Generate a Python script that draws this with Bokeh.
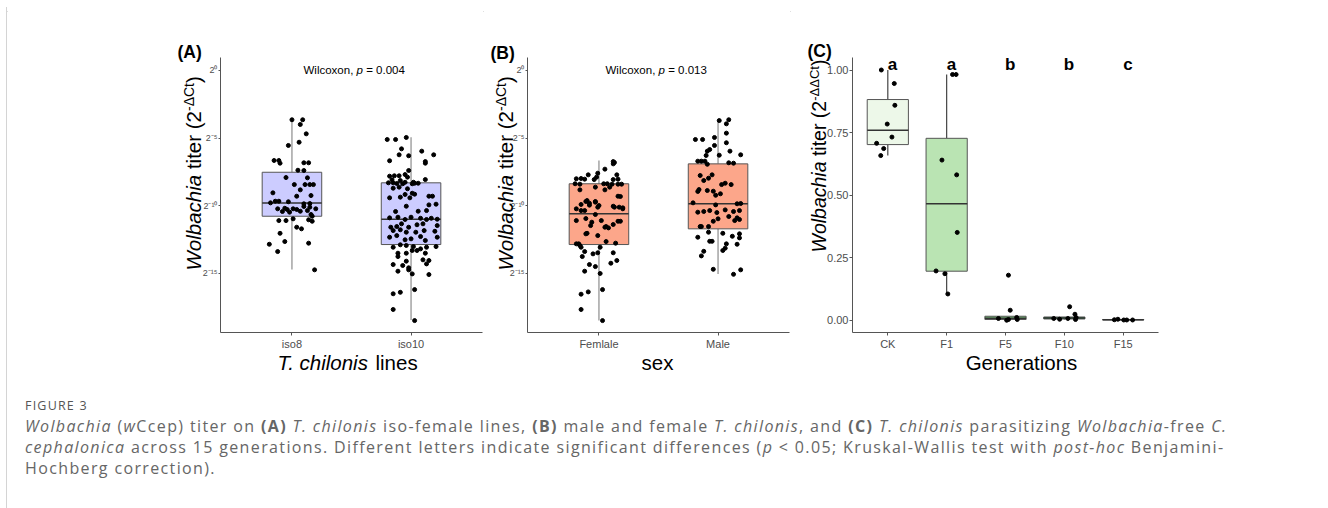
import math
from bokeh.plotting import figure
from bokeh.models import FixedTicker, PrintfTickFormatter, Div
from bokeh.core.properties import value
from bokeh.layouts import row, column
from bokeh.embed import file_html
from bokeh.resources import INLINE

# ---------------- data ----------------
lines_cats = ["iso8", "iso10"]
sex_cats = ["Femlale", "Male"]
gen_cats = ["CK", "F1", "F5", "F10", "F15"]
gen_letters = ["a", "a", "b", "b", "c"]

# log2 titer (exponent of 2^-dCt) and horizontal jitter (category units)
iso8_val = [-3.64,-3.64,-3.99,-4.68,-5.54,-5.30,-6.65,-6.65,-6.85,-6.82,-6.82,-7.37,-7.39,-7.91,-7.93,
            -8.43,-8.43,-8.43,-8.43,-8.82,-9.04,-9.29,-9.24,-9.78,-9.66,-9.66,-9.70,-9.85,-9.83,-10.22,
            -10.18,-10.27,-10.22,-10.27,-10.05,-10.10,-10.42,-10.47,-10.40,-10.35,-10.22,-10.64,-10.77,
            -11.09,-11.09,-10.96,-11.03,-11.14,-11.58,-11.70,-12.03,-12.64,-12.76,-12.84,-13.38,-14.73]
iso8_jit = [0.00,0.09,0.07,0.12,-0.03,0.06,-0.15,-0.11,-0.10,0.10,0.14,0.05,0.10,-0.05,0.13,0.02,0.11,
            0.15,0.18,0.07,-0.16,0.04,0.16,-0.18,-0.14,-0.11,-0.03,0.10,0.15,-0.12,-0.06,-0.04,0.01,0.04,
            0.10,0.15,-0.08,-0.02,0.07,0.13,0.20,0.16,0.17,-0.11,-0.05,0.01,0.14,0.17,0.04,0.08,-0.10,
            -0.06,0.14,-0.19,-0.12,0.19]
iso10_val = [-5.10,-5.10,-4.95,-5.79,-6.23,-6.30,-5.96,-6.23,-6.67,-6.73,-6.85,-7.39,-7.81,-7.78,-7.78,
             -7.69,-7.88,-8.08,-8.13,-8.26,-8.33,-8.06,-8.37,-8.30,-8.30,-8.35,-8.37,-8.26,-8.33,-8.70,
             -8.62,-8.74,-9.07,-9.14,-9.16,-9.41,-9.36,-9.41,-9.29,-9.29,-9.88,-9.93,
             -10.42,-10.03,-10.40,-10.35,-10.89,-10.84,-11.01,-10.84,-10.92,-11.01,-10.92,-10.99,-11.58,
             -11.53,-11.33,-11.58,-11.40,-11.33,-11.46,-11.83,-11.77,-11.95,-11.95,-11.83,-11.88,-12.32,
             -12.20,-12.51,-12.44,-12.27,-12.56,-12.32,-13.06,-12.88,-12.93,-13.01,-13.18,-13.06,-13.01,
             -13.50,-13.50,-13.30,-13.30,-13.50,-13.75,-14.09,-13.99,-14.04,-14.34,-14.41,-14.58,-14.83,
             -14.73,-14.29,-15.08,-15.03,-16.50,-16.39,-16.19,-17.66,-18.48]
iso10_jit = [-0.20,-0.13,-0.04,-0.08,-0.10,-0.02,0.09,0.19,-0.18,0.12,0.12,-0.02,-0.18,-0.14,-0.10,-0.05,
             -0.03,-0.16,-0.09,0.02,0.06,0.12,0.01,-0.19,-0.15,-0.12,-0.07,-0.05,0.03,-0.15,-0.10,-0.03,
             0.01,0.03,-0.05,-0.18,-0.09,-0.01,0.15,0.18,0.21,0.15,
             -0.13,-0.04,0.06,0.13,-0.18,-0.11,-0.05,0.00,0.08,0.13,0.17,0.22,-0.17,-0.12,-0.08,-0.02,
             0.05,0.10,0.22,-0.15,-0.09,-0.04,0.04,0.11,0.20,-0.18,-0.12,-0.05,0.00,0.08,0.12,0.22,-0.15,
             -0.09,-0.04,0.02,0.08,0.13,0.21,-0.11,-0.04,0.01,0.05,0.12,-0.11,-0.04,0.10,0.15,-0.15,-0.07,
             -0.02,-0.11,-0.02,0.13,0.15,0.01,-0.15,-0.09,0.03,-0.15,0.03]

female_val = [-6.73,-6.80,-6.90,-7.29,-7.71,-7.88,-8.00,-7.98,-8.03,-8.06,-7.59,-7.71,-8.06,-8.03,-8.37,
              -8.40,-8.37,-8.37,-8.40,-8.40,-8.40,-8.82,-8.62,-8.82,-8.62,-9.29,-9.31,-9.61,-9.81,-9.68,
              -9.90,-9.98,-10.03,-10.10,-10.15,-10.22,-10.35,-9.68,-9.73,-10.10,-10.10,-10.22,-10.35,-9.95,
              -10.64,-11.09,-11.21,-11.46,-11.09,-11.53,-11.38,-11.14,-11.14,-10.94,-12.07,-12.03,-12.20,
              -11.63,-11.58,-12.64,-12.76,-12.81,-12.81,-12.93,-13.06,-13.38,-13.55,-13.47,-13.06,-13.47,
              -13.75,-14.34,-14.49,-14.24,-14.04,-14.83,-15.00,-16.53,-16.36,-16.19,-17.66,-18.48]
female_jit = [0.12,0.13,0.12,0.05,-0.09,-0.02,-0.19,-0.15,-0.12,-0.04,-0.01,0.15,0.12,0.16,-0.20,-0.16,
              0.04,0.07,0.11,0.16,0.19,-0.16,-0.03,0.05,0.09,0.16,0.18,-0.10,-0.08,-0.03,-0.15,0.00,0.12,
              0.17,0.20,-0.19,-0.12,-0.11,-0.03,-0.01,0.13,0.20,-0.15,-0.08,-0.03,-0.19,-0.06,-0.07,0.02,
              0.06,0.12,0.16,0.18,-0.11,-0.11,-0.10,-0.01,0.08,0.05,0.06,0.14,-0.19,-0.17,-0.16,-0.15,
              -0.12,-0.05,-0.01,0.01,0.12,-0.14,-0.08,-0.03,0.10,0.15,-0.12,0.01,-0.15,-0.09,0.03,-0.15,0.03]
male_val = [-3.70,-3.64,-3.94,-5.10,-5.10,-4.95,-4.63,-5.34,-5.54,-5.84,-5.96,-5.96,-6.28,-6.26,-6.23,
            -6.70,-6.70,-6.70,-6.93,-6.82,-6.85,-7.76,-8.13,-7.96,-7.71,-8.94,-8.80,-8.87,-8.92,-9.22,
            -9.11,-8.33,-8.43,-8.43,-9.78,-9.93,-9.85,-9.83,-10.47,-10.42,-10.35,-10.50,-10.30,-10.42,
            -10.35,-10.96,-10.79,-10.89,-11.09,-11.01,-11.14,-11.53,-11.53,-11.53,-12.32,-11.95,-12.03,
            -12.25,-12.07,-12.37,-12.62,-12.62,-12.81,-13.13,-13.30,-12.84,-13.36,-13.70,-14.69,-15.06,-14.73]
male_jit = [0.01,0.09,0.07,-0.19,-0.13,-0.03,0.07,0.07,-0.03,-0.07,-0.09,0.10,-0.10,0.01,0.19,-0.17,
            -0.14,-0.11,-0.09,0.09,0.13,-0.15,-0.12,-0.08,-0.05,-0.17,-0.16,-0.09,-0.04,-0.02,0.02,0.06,
            0.11,0.03,-0.21,-0.02,0.16,0.19,-0.17,-0.12,-0.07,-0.01,0.06,0.13,0.18,0.00,0.09,0.16,0.14,
            0.18,-0.04,-0.15,-0.14,-0.08,-0.17,-0.08,0.04,0.12,0.18,0.18,-0.07,-0.05,0.07,0.06,0.04,0.16,
            -0.12,-0.14,-0.04,0.13,0.19]

# box statistics (log2 units): lower whisker, q1, median, q3, upper whisker
lines_lo = [-14.71, -18.43]
lines_q1 = [-10.77, -12.86]
lines_med = [-9.79, -10.99]
lines_q3 = [-7.52, -8.30]
lines_hi = [-3.55, -4.93]
sex_lo = [-18.48, -15.03]
sex_q1 = [-12.86, -11.70]
sex_med = [-10.59, -9.85]
sex_q3 = [-8.37, -6.90]
sex_hi = [-6.65, -3.65]

# panel C: relative titer 2^-ddCt
gen_val = [
    [1.000, 0.946, 0.859, 0.784, 0.732, 0.707, 0.686, 0.658],
    [0.982, 0.982, 0.640, 0.581, 0.351, 0.197, 0.186, 0.105],
    [0.180, 0.040, 0.007, 0.000, 0.003, 0.011, 0.003],
    [0.007, 0.004, 0.007, 0.054, 0.024, 0.003, 0.011],
    [0.002, 0.004, 0.001, 0.001, 0.001],
]
gen_jit = [
    [-0.11, 0.11, 0.12, -0.01, 0.07, -0.19, -0.07, -0.12],
    [0.10, 0.16, -0.08, 0.17, 0.18, -0.18, -0.03, 0.02],
    [0.05, 0.08, -0.12, 0.02, 0.05, 0.19, 0.20],
    [-0.18, -0.08, 0.06, 0.09, 0.18, 0.19, 0.20],
    [-0.15, -0.09, 0.01, 0.06, 0.16],
]
gen_lo = [0.658, 0.105, 0.000, 0.003, 0.001]
gen_q1 = [0.702, 0.196, 0.003, 0.005, 0.001]
gen_med = [0.759, 0.466, 0.008, 0.009, 0.002]
gen_q3 = [0.882, 0.727, 0.016, 0.013, 0.003]
gen_hi = [1.000, 0.982, 0.016, 0.013, 0.003]

y_exp_ticks = [0, -5, -10, -15]
y_exp_labels = ["2\u2070", "2\u207b\u2075", "2\u207b\u00b9\u2070", "2\u207b\u00b9\u2075"]
c_ticks = [0.0, 0.25, 0.5, 0.75, 1.0]

# ---------------- helpers ----------------
FONT = "Liberation Sans"
FT, FB = 57, 332  # page y of frame top / bottom (all panels)
BASE_K = 0.38     # offset between requested and rendered alphabetic baseline (in em)
ARIAL = {' ': 278, '(': 333, ')': 333, '-': 333, '.': 278, ',': 278, '=': 584, '\u0394': 668,
         'C': 722, 'T': 611, 'W': 944, 'G': 778, 'a': 556, 'b': 556, 'c': 500, 'e': 556, 'h': 556,
         'i': 222, 'l': 222, 'n': 556, 'o': 556, 'p': 556, 'r': 333, 's': 500, 't': 278, 'x': 500}


def tw(s, size):
    return sum(ARIAL.get(ch, 556) for ch in s) / 1000.0 * size


class Panel:
    def __init__(self, p, fl, fr, xr, yr):
        self.p, self.fl, self.fr, self.xr, self.yr = p, fl, fr, xr, yr

    def data(self, xp, yp):
        xd = self.xr[0] + (xp - self.fl) / (self.fr - self.fl) * (self.xr[1] - self.xr[0])
        yd = self.yr[0] + (FB - yp) / (FB - FT) * (self.yr[1] - self.yr[0])
        return xd, yd


def txt(P, xp, yp, text, size, style="normal", align="left", angle=0.0, color="#000000"):
    # (xp, yp) = page position of the alphabetic baseline start
    if angle:
        xp = xp - BASE_K * size
    else:
        yp = yp - BASE_K * size
    xd, yd = P.data(xp, yp)
    P.p.text(x=[xd], y=[yd], text=[text], text_font=value(FONT), text_font_size=value(f"{size}px"),
             text_font_style=style, text_align=align, text_baseline="alphabetic", angle=angle,
             text_color=color, level="overlay")


def pieces(P, x0, y0, parts, vertical=False):
    pos = 0.0
    for t, style, size, shift in parts:
        lead = tw(t[:len(t) - len(t.lstrip())], size)
        core = t.strip()
        if vertical:
            txt(P, x0 - shift, y0 - pos - lead, core, size, style, angle=math.pi / 2)
        else:
            txt(P, x0 + pos + lead, y0 - shift, core, size, style)
        pos += tw(t, size)


def make_fig(width, ml, mr, xr, yr):
    p = figure(width=width, height=378, x_range=xr, y_range=yr, min_border_left=ml,
               min_border_right=mr, min_border_top=FT - 7, min_border_bottom=53,
               output_backend="svg", toolbar_location=None, title=None)
    p.xgrid.visible = False
    p.ygrid.visible = False
    p.outline_line_color = None
    p.background_fill_color = "white"
    p.border_fill_color = "white"
    for ax in (p.xaxis, p.yaxis):
        ax.axis_line_color = "#555555"
        ax.axis_line_width = 1
        ax.major_tick_line_color = "#555555"
        ax.major_tick_in = 0
        ax.minor_tick_line_color = None
        ax.major_label_text_font = FONT
        ax.major_label_text_color = "#4d4d4d"
    p.xaxis.major_tick_out = 3
    p.xaxis.major_label_standoff = 2
    p.xaxis.major_label_text_font_size = "11px"
    return p


def box_panel(p, lo, q1, med, q3, hi, fill, wcol, hw, vals, jits):
    xs = [i + 1 for i in range(len(lo))]
    p.segment(x0=xs, y0=q3, x1=xs, y1=hi, line_color=wcol, line_width=1.2)
    p.segment(x0=xs, y0=lo, x1=xs, y1=q1, line_color=wcol, line_width=1.2)
    p.vbar(x=xs, width=2 * hw, bottom=q1, top=q3, fill_color=fill, line_color="#555555", line_width=1)
    p.segment(x0=[x - hw for x in xs], y0=med, x1=[x + hw for x in xs], y1=med,
              line_color="#333333", line_width=1.5)
    for i, (v, j) in enumerate(zip(vals, jits)):
        p.scatter(x=[i + 1 + o for o in j], y=v, size=4, color="black")


# ---------------- panels ----------------
YR_AB = (-19.36, 0.96)
pA = make_fig(476, 213, 1, (0.4, 2.6), YR_AB)
box_panel(pA, lines_lo, lines_q1, lines_med, lines_q3, lines_hi, "#ccccff", "#8c8c8c", 0.25,
          [iso8_val, iso10_val], [iso8_jit, iso10_jit])
pB = make_fig(307, 44, 1, (0.4, 2.6), YR_AB)
box_panel(pB, sex_lo, sex_q1, sex_med, sex_q3, sex_hi, "#fca68a", "#8c8c8c", 0.25,
          [female_val, male_val], [female_jit, male_jit])
for p, cats in ((pA, lines_cats), (pB, sex_cats)):
    p.xaxis.ticker = FixedTicker(ticks=[1, 2])
    p.xaxis.major_label_overrides = {i + 1: c for i, c in enumerate(cats)}
    p.yaxis.ticker = FixedTicker(ticks=y_exp_ticks)
    p.yaxis.major_label_overrides = dict(zip(y_exp_ticks, y_exp_labels))
    p.yaxis.major_tick_out = 2
    p.yaxis.major_label_standoff = 1
    p.yaxis.major_label_text_font_size = "9px"

pC = make_fig(538, 62, 170, (0.4, 5.6), (-0.049, 1.05))
box_panel(pC, gen_lo, gen_q1, gen_med, gen_q3, gen_hi,
          ["#edf8e9", "#bae4b3", "#74c476", "#31a354", "#006d2c"], "#444444", 0.35, gen_val, gen_jit)
pC.xaxis.ticker = FixedTicker(ticks=[1, 2, 3, 4, 5])
pC.xaxis.major_label_overrides = {i + 1: c for i, c in enumerate(gen_cats)}
pC.yaxis.ticker = FixedTicker(ticks=c_ticks)
pC.yaxis.formatter = PrintfTickFormatter(format="%.2f")
pC.yaxis.major_tick_out = 3
pC.yaxis.major_label_standoff = 1
pC.yaxis.major_label_text_font_size = "11px"

PA = Panel(pA, 220, 482, (0.4, 2.6), YR_AB)
PB = Panel(pB, 527, 789, (0.4, 2.6), YR_AB)
PC = Panel(pC, 852, 1158, (0.4, 5.6), (-0.049, 1.05))

# significance letters (x in category units)
for i, t in enumerate(gen_letters):
    xp = PC.fl + (i + 1.08 - 0.4) / 5.2 * (PC.fr - PC.fl)
    txt(PC, xp, 70, t, 17, "bold", align="center")

# ---------------- texts ----------------
txt(PA, 177, 58, "(A)", 17.5, "bold")
txt(PB, 490, 59, "(B)", 17.5, "bold")
txt(PC, 807, 57, "(C)", 17.5, "bold")

pieces(PA, 303, 74, [("Wilcoxon, ", "normal", 11.5, 0), ("p", "italic", 11.5, 0), (" = 0.004", "normal", 11.5, 0)])
pieces(PB, 605, 74, [("Wilcoxon, ", "normal", 11.5, 0), ("p", "italic", 11.5, 0), (" = 0.013", "normal", 11.5, 0)])

ytA = [("Wolbachia", "italic", 20.5, 0), (" titer (2", "normal", 20.5, 0), ("-\u0394Ct", "normal", 14, 7.5), (")", "normal", 20.5, 0)]
ytC = [("Wolbachia", "italic", 19.5, 0), (" titer (2", "normal", 19.5, 0), ("-\u0394\u0394Ct", "normal", 13, 7), (")", "normal", 19.5, 0)]
pieces(PA, 201, 270, ytA, vertical=True)
pieces(PB, 513, 270, ytA, vertical=True)
pieces(PC, 826, 252, ytC, vertical=True)

pieces(PA, 277, 370, [("T. chilonis", "italic", 20.5, 0), (" lines", "normal", 20.5, 0)])
txt(PB, 657, 370, "sex", 20.5, align="center")
txt(PC, 1021, 370, "Generations", 20.5, align="center")

# ---------------- page frame + caption ----------------
BORDER = "#d4d4d4"
top_div = Div(text=f"<div style=\"margin:6px 0 0 6px;height:0;width:1322px;border-top:1px solid {BORDER};"
                   f"border-left:1px solid {BORDER};\"></div>", width=1328, height=7, margin=0)
left_div = Div(text=f"<div style=\"margin-left:6px;width:0;height:378px;border-left:1px solid {BORDER};\"></div>",
               width=7, height=378, margin=0)

caption_html = (
    f"<div style=\"margin-left:6px;border-left:1px solid {BORDER};height:123px;box-sizing:border-box;"
    "padding-left:18px;padding-top:13px;font-family:'Open Sans';color:#666666;white-space:nowrap;\">"
    "<div style=\"font-size:12.5px;line-height:15px;letter-spacing:1.2px;color:#555555;\">FIGURE 3</div>"
    "<div style=\"font-size:16px;line-height:21px;letter-spacing:1.37px;margin-top:3px;\">"
    "<i>Wolbachia</i> (<i>w</i>Ccep) titer on <b>(A)</b> <i>T. chilonis</i> iso-female lines, "
    "<b>(B)</b> male and female <i>T. chilonis</i>, and <b>(C)</b> <i>T. chilonis</i> parasitizing "
    "<i>Wolbachia</i>-free <i>C.</i><br><i>cephalonica</i> across 15 generations. Different letters "
    "indicate significant differences (<i>p</i> &lt; 0.05; Kruskal-Wallis test with <i>post-hoc</i> "
    "Benjamini-<br>Hochberg correction).</div></div>"
)
caption = Div(text=caption_html, width=1328, height=123, margin=0)

layout = column(top_div, row(left_div, pA, pB, pC, spacing=0), caption, spacing=0)
open("out.html", "w").write(file_html(layout, INLINE))
